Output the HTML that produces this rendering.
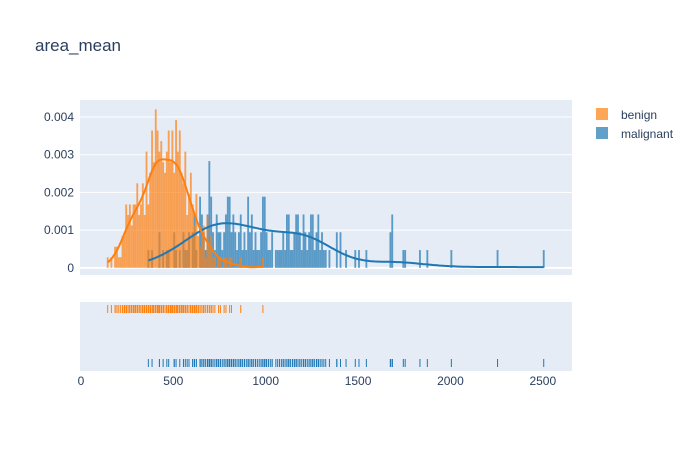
<!DOCTYPE html>
<html><head><meta charset="utf-8"><style>
body{margin:0;background:#fff;font-family:"Liberation Sans",Arial,sans-serif}
svg text{font-family:"Liberation Sans",Arial,sans-serif;fill:#2a3f5f}
</style></head><body>
<svg id="c" width="700" height="450" xmlns="http://www.w3.org/2000/svg">
<rect width="700" height="450" fill="#fff"/>
<text x="35" y="51" font-size="17">area_mean</text>
<rect x="80" y="100" width="492" height="175" fill="#e5ecf6"/>
<rect x="80" y="302" width="492" height="69" fill="#e5ecf6"/>
<g id="grid"></g><g id="bars"></g><g id="curves"></g><g id="rug"></g><g id="axes"></g>
<g>
<g><rect x="596" y="108" width="12" height="12" fill="rgb(255,127,14)" opacity="0.7"/><text x="621" y="119" font-size="12">benign</text></g>
<g><rect x="596" y="127" width="12" height="12" fill="rgb(31,119,180)" opacity="0.7"/><text x="621" y="138" font-size="12">malignant</text></g>
</g>
</svg>
<script>
const binSize = 10;
const benignTotal = 357;
const malignantTotal = 212;
const benignBins = [140,160,180,190,200,210,220,230,240,250,260,270,280,290,300,310,320,330,340,350,360,370,380,390,400,410,420,430,440,450,460,470,480,490,500,510,520,530,540,550,560,570,580,590,600,610,620,630,640,650,660,670,680,690,700,710,720,740,750,770,780,800,810,860,980];
const benignCounts = [1,1,2,2,1,1,3,3,6,5,6,4,6,6,8,5,6,8,5,11,6,9,13,10,15,13,11,12,10,9,11,13,10,13,9,14,11,13,9,8,11,5,7,9,6,4,7,3,2,3,4,1,5,2,3,1,1,1,1,1,1,1,1,1,1];
const malignantBins = [360,380,420,440,460,470,500,510,530,550,560,570,580,600,610,620,640,650,660,670,680,690,700,710,720,730,740,750,760,770,780,790,800,810,820,830,840,850,860,870,880,890,900,910,920,930,940,950,960,970,980,990,1000,1010,1020,1030,1050,1060,1070,1080,1090,1100,1110,1120,1130,1140,1150,1160,1170,1180,1190,1200,1210,1220,1230,1240,1250,1260,1270,1280,1290,1300,1310,1320,1340,1380,1400,1430,1480,1500,1540,1670,1680,1740,1750,1830,1870,2000,2250,2500];
const malignantCounts = [1,1,2,1,1,1,2,1,1,2,1,1,2,2,3,1,4,3,2,1,3,6,4,2,1,3,2,2,1,2,3,4,4,2,3,2,1,2,3,1,2,1,4,2,3,1,2,1,1,2,4,4,2,1,1,2,1,1,1,1,2,1,3,3,1,1,2,3,3,2,1,3,2,1,2,3,3,1,2,3,1,2,1,1,1,2,2,1,1,1,1,2,3,1,1,1,1,1,1,1];
const yTicks = [0,0.001,0.002,0.003,0.004];
const yTickLabels = ["0","0.001","0.002","0.003","0.004"];
const xTicks = [0,500,1000,1500,2000,2500];

const NS="http://www.w3.org/2000/svg";
const X0=80,X1=572,XMIN=-5,XMAX=2658;
const YT=100,YB=275,YMIN=-0.00019,YMAX=0.00445;
const sx=v=>X0+(v-XMIN)/(XMAX-XMIN)*(X1-X0);
const sy=v=>YB-(v-YMIN)/(YMAX-YMIN)*(YB-YT);
function mk(tag,attrs,parent){const e=document.createElementNS(NS,tag);for(const k in attrs)e.setAttribute(k,attrs[k]);parent.appendChild(e);return e;}
const g=id=>document.getElementById(id);

yTicks.forEach((t,i)=>{
  const l=mk('line',{x1:X0,x2:X1,y1:sy(t),y2:sy(t),stroke:'#fff','stroke-width':i===0?2:1},g('grid'));
  
  
  const tx=mk('text',{x:74,y:sy(t)+4,'font-size':12,'text-anchor':'end'},g('axes'));
  tx.textContent=yTickLabels[i];
  
  
});
xTicks.forEach(t=>{
  const tx=mk('text',{x:sx(t),y:385,'font-size':12,'text-anchor':'middle'},g('axes'));
  tx.textContent=String(t);
  
  
});

function series(bins,counts,N,color,rugY,name){
  const pts=[];
  bins.forEach((b,i)=>{
    const d=counts[i]/(N*binSize);
    const r=mk('rect',{x:sx(b),y:sy(d),width:sx(b+binSize)-sx(b),height:sy(0)-sy(d),fill:color,opacity:0.7},g('bars'));
    
    
    for(let k=0;k<counts[i];k++)pts.push(b+binSize/2);
  });
  const mean=pts.reduce((a,b)=>a+b,0)/pts.length;
  const sd=Math.sqrt(pts.reduce((a,b)=>a+(b-mean)**2,0)/(pts.length-1));
  const bw=sd*Math.pow(pts.length,-0.2);
  const lo=Math.min(...pts),hi=Math.max(...pts);
  let dstr='';
  for(let i=0;i<=200;i++){
    const x=lo+(hi-lo)*i/200;
    let s=0;for(const p of pts)s+=Math.exp(-0.5*((x-p)/bw)**2);
    const y=s/(pts.length*bw*Math.sqrt(2*Math.PI));
    dstr+=(i?'L':'M')+sx(x).toFixed(1)+','+sy(y).toFixed(1);
  }
  const c=mk('path',{d:dstr,fill:'none',stroke:color,'stroke-width':2},g('curves'));
  
  
  pts.forEach(p=>{
    const l=mk('line',{x1:sx(p),x2:sx(p),y1:rugY-4,y2:rugY+4,stroke:color,'stroke-width':1},g('rug'));
    
    
  });
}
series(malignantBins,malignantCounts,malignantTotal,'rgb(31,119,180)',363,'malignant');
series(benignBins,benignCounts,benignTotal,'rgb(255,127,14)',309,'benign');
</script>
</body></html>
